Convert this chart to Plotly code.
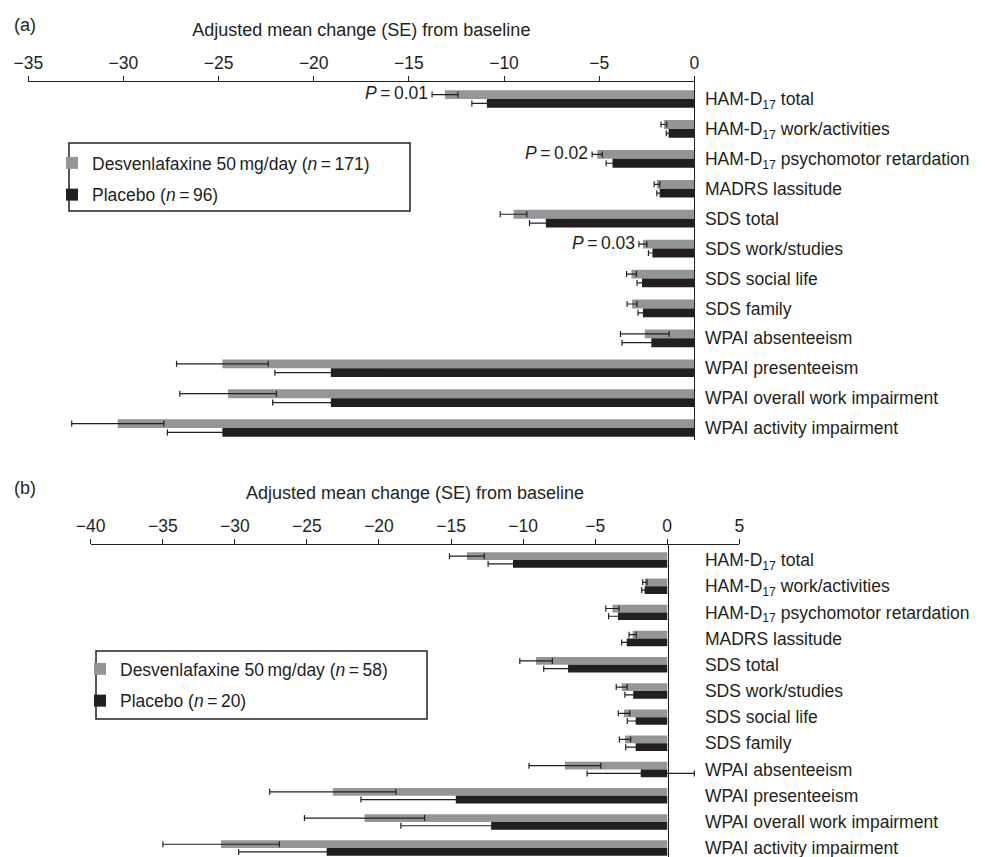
import plotly.graph_objects as go

# ---------------- data ----------------
categories = [
    "HAM-D<sub>17</sub> total",
    "HAM-D<sub>17</sub> work/activities",
    "HAM-D<sub>17</sub> psychomotor retardation",
    "MADRS lassitude",
    "SDS total",
    "SDS work/studies",
    "SDS social life",
    "SDS family",
    "WPAI absenteeism",
    "WPAI presenteeism",
    "WPAI overall work impairment",
    "WPAI activity impairment",
]

# Panel (a)
desv_a = [-13.1, -1.6, -5.1, -1.96, -9.5, -2.7, -3.3, -3.27, -2.6, -24.8, -24.5, -30.3]
desv_a_se = [0.68, 0.15, 0.27, 0.15, 0.70, 0.21, 0.26, 0.26, 1.28, 2.41, 2.54, 2.42]
plac_a = [-10.9, -1.35, -4.3, -1.82, -7.8, -2.2, -2.75, -2.7, -2.26, -19.1, -19.1, -24.8]
plac_a_se = [0.79, 0.12, 0.33, 0.15, 0.86, 0.21, 0.26, 0.26, 1.54, 2.94, 3.06, 2.89]

# Panel (b)
desv_b = [-13.9, -1.55, -3.8, -2.4, -9.1, -3.16, -3.0, -2.93, -7.1, -23.2, -21.0, -30.95]
desv_b_se = [1.21, 0.15, 0.46, 0.25, 1.13, 0.38, 0.40, 0.39, 2.49, 4.38, 4.17, 4.04]
plac_b = [-10.7, -1.57, -3.42, -2.81, -6.88, -2.36, -2.19, -2.19, -1.84, -14.67, -12.22, -23.63]
plac_b_se = [1.73, 0.20, 0.65, 0.35, 1.69, 0.58, 0.58, 0.69, 3.72, 6.58, 6.26, 6.10]

# P-value labels (panel a)
p_index = [0, 2, 5]
p_text = ["<i>P</i>\u2009=\u20090.01", "<i>P</i>\u2009=\u20090.02", "<i>P</i>\u2009=\u20090.03"]

legend_a = ["Desvenlafaxine 50\u2009mg/day (<i>n</i>\u2009=\u2009171)", "Placebo (<i>n</i>\u2009=\u200996)"]
legend_b = ["Desvenlafaxine 50\u2009mg/day (<i>n</i>\u2009=\u200958)", "Placebo (<i>n</i>\u2009=\u200920)"]

x_ticks_a = [-35, -30, -25, -20, -15, -10, -5, 0]
x_ticks_b = [-40, -35, -30, -25, -20, -15, -10, -5, 0, 5]
axis_title = "Adjusted mean change (SE) from baseline"

# ---------------- style ----------------
GREY = "#939598"
BLACK = "#231f20"
ERR = "#231f20"
FONT = "Liberation Sans, Arial, Helvetica, sans-serif"
FS = 17.5
FS_TITLE = 18
OFF = 8                 # page body margin of the html page
W, H = 985 - OFF, 857 - OFF


def px_x(p):
    return (p - OFF) / W


def px_y(p):
    return 1 - (p - OFF) / H


fig = go.Figure()


def add_pair(xa, ya, vals_d, se_d, vals_p, se_p, names, legend):
    fig.add_trace(go.Bar(
        y=categories, x=vals_d, orientation="h", name=names[0],
        marker=dict(color=GREY, line=dict(width=0)),
        error_x=dict(type="data", array=se_d, visible=True, color=ERR, thickness=1.2, width=3),
        xaxis=xa, yaxis=ya, legend=legend, legendgroup=legend + "d",
    ))
    fig.add_trace(go.Bar(
        y=categories, x=vals_p, orientation="h", name=names[1],
        marker=dict(color=BLACK, line=dict(width=0)),
        error_x=dict(type="data", array=se_p, visible=True, color=ERR, thickness=1.2, width=3),
        xaxis=xa, yaxis=ya, legend=legend, legendgroup=legend + "p",
    ))


add_pair("x", "y", desv_a, desv_a_se, plac_a, plac_a_se, legend_a, "legend")
add_pair("x2", "y2", desv_b, desv_b_se, plac_b, plac_b_se, legend_b, "legend2")

xaxis_common = dict(
    side="top", showline=True, linecolor=BLACK, linewidth=1.3,
    ticks="outside", ticklen=5, tickwidth=1.3, tickcolor=BLACK,
    showgrid=False, zeroline=False, automargin=False,
    tickfont=dict(size=FS, color=BLACK, family=FONT),
    title=dict(text=axis_title, font=dict(size=FS_TITLE, color=BLACK, family=FONT), standoff=11),
)
yaxis_common = dict(
    type="category", showline=True, linecolor=BLACK, linewidth=1.3,
    ticks="", showgrid=False, zeroline=False, side="right", automargin=False,
    tickfont=dict(size=FS, color=BLACK, family=FONT),
)

fig.update_layout(
    width=W, height=H,
    margin=dict(l=0, r=0, t=0, b=0, autoexpand=False),
    paper_bgcolor="white", plot_bgcolor="rgba(0,0,0,0)",
    barmode="group", bargap=0.41, bargroupgap=0,
    font=dict(family=FONT, size=FS, color=BLACK),
    xaxis=dict(xaxis_common, domain=[px_x(28.3), px_x(694.3)], range=[-35, 0],
               tickvals=x_ticks_a, anchor="y"),
    yaxis=dict(yaxis_common, domain=[px_y(440), px_y(82)], range=[11.4, -0.569],
               anchor="x", ticklabelstandoff=6),
    xaxis2=dict(xaxis_common, domain=[px_x(90.7), px_x(739.3)], range=[-40, 5],
                tickvals=x_ticks_b, anchor="y2"),
    yaxis2=dict(yaxis_common, domain=[0, px_y(545)], range=[11.34, -0.573],
                anchor="free", position=px_x(668.3), ticklabelstandoff=32),
    legend=dict(x=px_x(52), y=px_y(145), xanchor="left", yanchor="top",
                bgcolor="rgba(0,0,0,0)", borderwidth=0, tracegroupgap=6,
                font=dict(size=FS, color=BLACK, family=FONT), itemwidth=30),
    legend2=dict(x=px_x(80), y=px_y(651), xanchor="left", yanchor="top",
                 bgcolor="rgba(0,0,0,0)", borderwidth=0, tracegroupgap=6,
                 font=dict(size=FS, color=BLACK, family=FONT), itemwidth=30),
    showlegend=True,
)

# legend boxes
fig.add_shape(type="rect", xref="paper", yref="paper",
              x0=px_x(69), x1=px_x(410), y0=px_y(211), y1=px_y(143),
              line=dict(color=BLACK, width=1.5), fillcolor="rgba(0,0,0,0)")
fig.add_shape(type="rect", xref="paper", yref="paper",
              x0=px_x(96), x1=px_x(427), y0=px_y(719), y1=px_y(651),
              line=dict(color=BLACK, width=1.5), fillcolor="rgba(0,0,0,0)")

# P-value annotations
for i, t in zip(p_index, p_text):
    fig.add_annotation(x=desv_a[i] - desv_a_se[i], y=categories[i], xref="x", yref="y",
                       text=t, showarrow=False, xanchor="right", yanchor="middle",
                       xshift=-2, yshift=6, font=dict(size=FS, color=BLACK, family=FONT))

# panel labels
fig.add_annotation(x=px_x(12), y=px_y(25), xref="paper", yref="paper", text="(a)",
                   showarrow=False, xanchor="left", yanchor="middle",
                   font=dict(size=FS_TITLE, color=BLACK, family=FONT))
fig.add_annotation(x=px_x(12), y=px_y(488), xref="paper", yref="paper", text="(b)",
                   showarrow=False, xanchor="left", yanchor="middle",
                   font=dict(size=FS_TITLE, color=BLACK, family=FONT))

fig.write_html("out.html")
